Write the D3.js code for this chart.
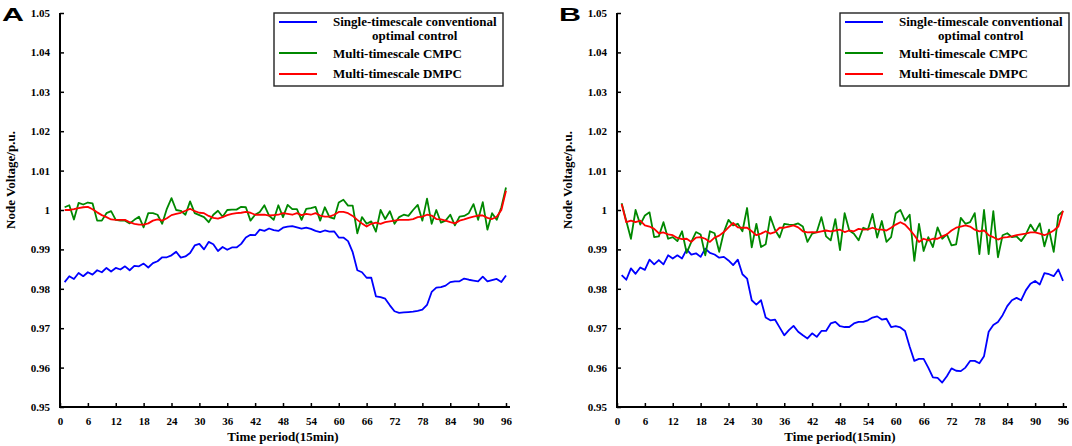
<!DOCTYPE html>
<html><head><meta charset="utf-8">
<script src="https://cdn.jsdelivr.net/npm/d3@7"></script>
<style>
body{margin:0;background:#fff;}
svg{display:block;}
text{font-family:"Liberation Serif","Times New Roman",Times,serif;font-weight:bold;fill:#000;}
</style></head>
<body>
<svg id="chart" width="1072" height="446"></svg>
<script>
const xTicks = [0,6,12,18,24,30,36,42,48,54,60,66,72,78,84,90,96];
const yTicks = [0.95,0.96,0.97,0.98,0.99,1.00,1.01,1.02,1.03,1.04,1.05];
const yTickLabels = ["0.95","0.96","0.97","0.98","0.99","1","1.01","1.02","1.03","1.04","1.05"];
const seriesNames = ["Single-timescale conventional optimal control","Multi-timescale CMPC","Multi-timescale DMPC"];
const seriesColors = ["#0000ff","#008800","#ff0000"];

const blueA = [0.9817,0.9832,0.9825,0.9840,0.9832,0.9842,0.9836,0.9847,0.9842,0.9853,
0.9844,0.9853,0.9849,0.9857,0.9847,0.9858,0.9857,0.9864,0.9854,0.9865,
0.9870,0.9880,0.9880,0.9885,0.9894,0.9879,0.9882,0.9891,0.9910,0.9914,
0.9900,0.9919,0.9913,0.9896,0.9906,0.9899,0.9905,0.9905,0.9914,0.9930,
0.9937,0.9936,0.9950,0.9947,0.9953,0.9949,0.9947,0.9955,0.9958,0.9959,
0.9956,0.9953,0.9955,0.9952,0.9947,0.9944,0.9948,0.9945,0.9946,0.9930,
0.9930,0.9921,0.9893,0.9847,0.9842,0.9828,0.9828,0.9781,0.9779,0.9775,
0.9758,0.9743,0.9739,0.9740,0.9741,0.9742,0.9744,0.9747,0.9759,0.9792,
0.9803,0.9804,0.9808,0.9817,0.9819,0.9819,0.9826,0.9823,0.9821,0.9819,
0.9831,0.9819,0.9822,0.9825,0.9817,0.9834];
const greenA = [1.0007,1.0012,0.9976,1.0018,1.0014,1.0019,1.0017,0.9973,0.9973,0.9992,
0.9997,0.9975,0.9973,0.9973,0.9966,0.9975,0.9983,0.9956,0.9992,0.9992,
0.9988,0.9965,1.0003,1.0030,1.0000,0.9998,0.9988,1.0022,0.9992,0.9987,
0.9982,0.9969,0.9988,0.9998,0.9983,1.0000,1.0001,1.0001,1.0008,1.0007,
0.9973,0.9988,0.9995,1.0012,0.9986,0.9975,1.0012,0.9982,1.0013,1.0002,
1.0002,0.9975,1.0003,1.0005,1.0008,0.9973,1.0007,0.9982,0.9978,1.0019,
1.0026,1.0011,1.0011,0.9941,0.9982,0.9965,0.9971,0.9945,1.0000,0.9977,
0.9997,0.9965,0.9982,0.9988,0.9985,1.0000,1.0013,0.9973,1.0029,0.9965,
1.0000,0.9968,0.9973,0.9988,0.9961,0.9983,0.9985,0.9992,1.0015,0.9975,
1.0020,0.9950,0.9992,0.9975,1.0007,1.0057];
const redA = [1.0000,1.0000,1.0002,1.0005,1.0007,1.0008,1.0002,0.9994,0.9987,0.9982,
0.9976,0.9975,0.9975,0.9975,0.9969,0.9965,0.9963,0.9963,0.9966,0.9973,
0.9976,0.9973,0.9979,0.9987,0.9990,0.9993,0.9998,1.0003,0.9997,0.9993,
0.9992,0.9985,0.9980,0.9978,0.9982,0.9987,0.9990,0.9992,0.9993,0.9995,
0.9993,0.9988,0.9988,0.9988,0.9986,0.9987,0.9988,0.9992,0.9990,0.9988,
0.9992,0.9987,0.9990,0.9988,0.9992,0.9986,0.9983,0.9983,0.9988,0.9995,
0.9995,0.9992,0.9985,0.9975,0.9966,0.9958,0.9965,0.9968,0.9965,0.9969,
0.9971,0.9973,0.9975,0.9975,0.9975,0.9977,0.9982,0.9983,0.9988,0.9986,
0.9977,0.9976,0.9973,0.9969,0.9966,0.9973,0.9976,0.9980,0.9983,0.9986,
0.9986,0.9980,0.9977,0.9983,1.0000,1.0049];
const blueB = [0.9835,0.9823,0.9852,0.9838,0.9854,0.9848,0.9874,0.9862,0.9873,0.9862,
0.9885,0.9877,0.9885,0.9877,0.9900,0.9887,0.9890,0.9881,0.9902,0.9891,
0.9887,0.9879,0.9881,0.9872,0.9860,0.9874,0.9837,0.9826,0.9771,0.9760,
0.9771,0.9727,0.9720,0.9722,0.9702,0.9682,0.9695,0.9706,0.9691,0.9682,
0.9674,0.9687,0.9678,0.9693,0.9693,0.9712,0.9716,0.9705,0.9703,0.9703,
0.9712,0.9716,0.9716,0.9720,0.9727,0.9730,0.9722,0.9724,0.9703,0.9705,
0.9702,0.9693,0.9653,0.9617,0.9622,0.9622,0.9600,0.9575,0.9574,0.9562,
0.9578,0.9598,0.9592,0.9591,0.9600,0.9617,0.9617,0.9611,0.9629,0.9691,
0.9708,0.9716,0.9733,0.9756,0.9771,0.9777,0.9771,0.9796,0.9813,0.9820,
0.9811,0.9840,0.9837,0.9832,0.9849,0.9820];
const greenB = [1.0017,0.9972,0.9927,1.0000,0.9963,0.9986,0.9994,0.9931,0.9933,0.9969,
0.9927,0.9931,0.9921,0.9946,0.9891,0.9919,0.9944,0.9938,0.9885,0.9946,
0.9941,0.9894,0.9944,0.9975,0.9961,0.9965,0.9946,1.0005,0.9905,0.9965,
0.9906,0.9913,0.9983,0.9950,0.9930,0.9965,0.9963,0.9962,0.9966,0.9958,
0.9919,0.9940,0.9944,0.9982,0.9933,0.9923,0.9977,0.9898,0.9992,0.9948,
0.9940,0.9923,0.9955,0.9950,0.9990,0.9930,0.9972,0.9919,0.9931,0.9992,
1.0000,0.9973,0.9988,0.9871,0.9965,0.9896,0.9931,0.9906,0.9956,0.9927,
0.9938,0.9910,0.9913,0.9980,0.9965,0.9969,0.9992,0.9888,1.0000,0.9888,
0.9997,0.9880,0.9936,0.9941,0.9931,0.9933,0.9921,0.9938,0.9963,0.9944,
0.9966,0.9908,0.9950,0.9894,0.9986,0.9997];
const redB = [1.0015,0.9969,0.9973,0.9969,0.9973,0.9961,0.9958,0.9952,0.9941,0.9943,
0.9938,0.9936,0.9929,0.9926,0.9927,0.9919,0.9930,0.9931,0.9927,0.9919,
0.9930,0.9935,0.9944,0.9956,0.9967,0.9956,0.9955,0.9955,0.9946,0.9936,
0.9940,0.9946,0.9940,0.9944,0.9955,0.9955,0.9958,0.9961,0.9956,0.9946,
0.9943,0.9944,0.9943,0.9946,0.9948,0.9946,0.9948,0.9950,0.9944,0.9948,
0.9946,0.9952,0.9950,0.9951,0.9955,0.9951,0.9950,0.9948,0.9955,0.9963,
0.9969,0.9963,0.9950,0.9936,0.9919,0.9927,0.9923,0.9927,0.9927,0.9933,
0.9938,0.9948,0.9955,0.9958,0.9961,0.9958,0.9950,0.9946,0.9948,0.9936,
0.9931,0.9925,0.9930,0.9931,0.9933,0.9936,0.9938,0.9940,0.9943,0.9943,
0.9940,0.9936,0.9941,0.9948,0.9958,0.9998];

const svg = d3.select("#chart");
const SERIF = '"Liberation Serif","Times New Roman",Times,serif';

function drawPanel(letter, ox, legendX, series){
  const x = d3.scaleLinear().domain([0,96]).range([ox, ox+446]);
  const y = d3.scaleLinear().domain([0.95,1.05]).range([407,13]);
  const g = svg.append("g");

  const xAxis = d3.axisBottom(x).tickValues(xTicks).tickFormat(d3.format("d"))
    .tickSizeInner(-4).tickSizeOuter(0).tickPadding(10);
  const gx = g.append("g").attr("transform","translate(0,407)").call(xAxis)
    .attr("font-family",SERIF);
  gx.select(".domain").remove();
  gx.append("line").attr("x1",ox).attr("x2",ox+450).attr("y1",0).attr("y2",0)
    .attr("stroke","#000").attr("stroke-width",2);
  gx.selectAll(".tick line").attr("stroke","#000").attr("stroke-width",1.5);
  gx.selectAll(".tick text").style("font-size","11px");

  const yAxis = d3.axisLeft(y).tickValues(yTicks).tickFormat((d,i)=>yTickLabels[i])
    .tickSizeInner(-4).tickSizeOuter(0).tickPadding(10);
  const gy = g.append("g").attr("transform",`translate(${ox},0)`).call(yAxis)
    .attr("font-family",SERIF);
  gy.select(".domain").remove();
  gy.append("line").attr("x1",0).attr("x2",0).attr("y1",13).attr("y2",408)
    .attr("stroke","#000").attr("stroke-width",2);
  gy.selectAll(".tick line").attr("stroke","#000").attr("stroke-width",1.5);
  gy.selectAll(".tick text").style("font-size","11px");

  const line = d3.line().x((d,i)=>x(i+1)).y(d=>y(d));
  series.forEach((s,k)=>{
    g.append("path").datum(s).attr("d",line).attr("fill","none")
      .attr("stroke",seriesColors[k]).attr("stroke-width",1.8).attr("stroke-linejoin","round");
  });

  g.append("text").attr("transform",`translate(${ox-45},180) rotate(-90)`)
    .attr("text-anchor","middle").style("font-size","13px").text("Node Voltage/p.u.");
  g.append("text").attr("x",ox+223).attr("y",441).attr("text-anchor","middle")
    .style("font-size","13px").text("Time period(15min)");

  g.append("text").attr("x",ox-58).attr("y",21)
    .style("font-family","Liberation Sans,Arial,sans-serif").style("font-size","19px")
    .attr("textLength",22).attr("lengthAdjust","spacingAndGlyphs").text(letter);

  const lg = g.append("g");
  lg.append("rect").attr("x",legendX).attr("y",13).attr("width",229).attr("height",73)
    .attr("fill","#fff").attr("stroke","#222").attr("stroke-width",1.4);
  const rowsY = [22,53,74];
  const textX = legendX+59;
  rowsY.forEach((ry,k)=>{
    lg.append("line").attr("x1",legendX+5).attr("x2",legendX+43).attr("y1",ry).attr("y2",ry)
      .attr("stroke",seriesColors[k]).attr("stroke-width",1.8);
  });
  const t1 = lg.append("text").attr("x",textX).attr("y",25.5).style("font-size","13px").text("Single-timescale conventional");
  const w1 = t1.node().getComputedTextLength();
  lg.append("text").attr("x",textX+w1/2).attr("y",39.5).attr("text-anchor","middle").style("font-size","13px").text("optimal control");
  lg.append("text").attr("x",textX).attr("y",57.5).style("font-size","13px").text(seriesNames[1]);
  lg.append("text").attr("x",textX).attr("y",77.5).style("font-size","13px").text(seriesNames[2]);
}

drawPanel("A", 60, 274, [blueA, greenA, redA]);
drawPanel("B", 617, 840, [blueB, greenB, redB]);
</script>
</body></html>
